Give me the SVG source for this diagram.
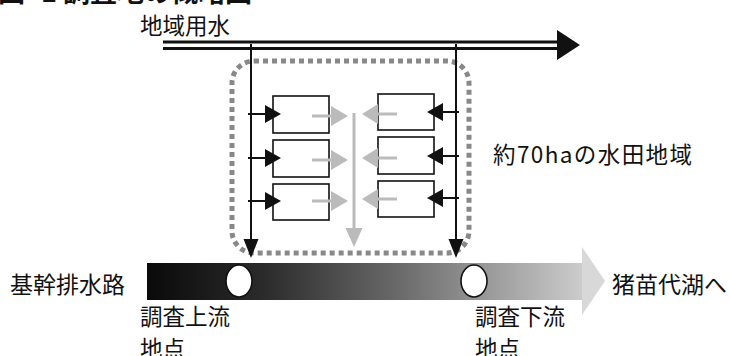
<svg xmlns="http://www.w3.org/2000/svg" width="730" height="356" viewBox="0 0 730 356">
<style>
text{font-family:"Noto Sans CJK JP","Noto Sans",sans-serif;fill:#111;}
.lbl{font-size:22.5px;}
.blk{stroke:#111;stroke-width:2;fill:none;}
.box{fill:#fff;stroke:#111;stroke-width:1.6;}
.gry{stroke:#bbb;stroke-width:3;fill:none;}
.hb{fill:#111;}
.hg{fill:#bbb;}
</style>
<defs>
<linearGradient id="bar" x1="147" y1="0" x2="605" y2="0" gradientUnits="userSpaceOnUse">
<stop offset="0" stop-color="#0a0a0a"/>
<stop offset="0.25" stop-color="#2a2a2a"/>
<stop offset="0.55" stop-color="#6a6a6a"/>
<stop offset="1" stop-color="#d8d8d8"/>
</linearGradient>
</defs>
<rect width="730" height="356" fill="#fff"/>
<text x="-2" y="2" style="font-size:27px;font-weight:bold">図−1 調査地の概略図</text>

<g id="canal">
<line x1="163" y1="42" x2="560" y2="42" stroke="#111" stroke-width="3"/>
<line x1="163" y1="48.5" x2="560" y2="48.5" stroke="#111" stroke-width="3"/>
<polygon points="557,30 580,45 557,60" class="hb"/>
<text x="140" y="34" class="lbl">地域用水</text>
</g>

<g id="area">
<rect x="232" y="61" width="237" height="192" rx="22" fill="none" stroke="#888" stroke-width="5" stroke-dasharray="5 4"/>
<text x="493" y="163" class="lbl" textLength="199">約70haの水田地域</text>
</g>

<g id="fields">
<rect x="273" y="96" width="56" height="37" class="box"/>
<rect x="273" y="140" width="56" height="37" class="box"/>
<rect x="273" y="184" width="56" height="36" class="box"/>
<rect x="378" y="94" width="56" height="36" class="box"/>
<rect x="378" y="137" width="56" height="37" class="box"/>
<rect x="378" y="181" width="56" height="36" class="box"/>
</g>

<g id="drain">
<rect x="147" y="263" width="436" height="37" fill="url(#bar)"/>
<polygon points="582,247 605,281 582,315" fill="#d8d8d8"/>
<ellipse cx="239" cy="281" rx="13" ry="16" fill="#fff" stroke="#111" stroke-width="1.6"/>
<ellipse cx="474" cy="281" rx="13" ry="16" fill="#fff" stroke="#111" stroke-width="1.6"/>
<text x="10" y="293" class="lbl" style="font-size:23px">基幹排水路</text>
<text x="612" y="293" class="lbl" style="font-size:23px">猪苗代湖へ</text>
<text x="140" y="325" class="lbl">調査上流</text>
<text x="140" y="357" class="lbl">地点</text>
<text x="475" y="325" class="lbl">調査下流</text>
<text x="475" y="357" class="lbl">地点</text>
</g>

<g id="connectors">
<line x1="251" y1="44" x2="251" y2="242" class="blk"/>
<polygon points="243.5,239 258.5,239 251,258" class="hb"/>
<line x1="456" y1="44" x2="456" y2="242" class="blk"/>
<polygon points="448.5,239 463.5,239 456,258" class="hb"/>
<line x1="248" y1="114" x2="267" y2="114" class="blk"/>
<polygon points="265,105 281,114 265,123" class="hb"/>
<line x1="248" y1="158" x2="267" y2="158" class="blk"/>
<polygon points="265,149 281,158 265,167" class="hb"/>
<line x1="248" y1="201" x2="267" y2="201" class="blk"/>
<polygon points="265,192 281,201 265,210" class="hb"/>
<line x1="459" y1="112" x2="441" y2="112" class="blk"/>
<polygon points="443,103 427,112 443,121" class="hb"/>
<line x1="459" y1="156" x2="441" y2="156" class="blk"/>
<polygon points="443,147 427,156 443,165" class="hb"/>
<line x1="459" y1="198" x2="441" y2="198" class="blk"/>
<polygon points="443,189 427,198 443,207" class="hb"/>
<line x1="312" y1="116" x2="333" y2="116" class="gry"/>
<polygon points="331,106 348,116 331,126" class="hg"/>
<line x1="312" y1="160" x2="333" y2="160" class="gry"/>
<polygon points="331,150 348,160 331,170" class="hg"/>
<line x1="312" y1="201" x2="333" y2="201" class="gry"/>
<polygon points="331,191 348,201 331,211" class="hg"/>
<line x1="397" y1="114" x2="376" y2="114" class="gry"/>
<polygon points="378,104 362,114 378,124" class="hg"/>
<line x1="397" y1="158" x2="376" y2="158" class="gry"/>
<polygon points="378,148 362,158 378,168" class="hg"/>
<line x1="397" y1="199" x2="376" y2="199" class="gry"/>
<polygon points="378,189 362,199 378,209" class="hg"/>
<line x1="354" y1="113" x2="354" y2="231" class="gry"/>
<polygon points="345.5,228 362.5,228 354,247" class="hg"/>
</g>
</svg>
